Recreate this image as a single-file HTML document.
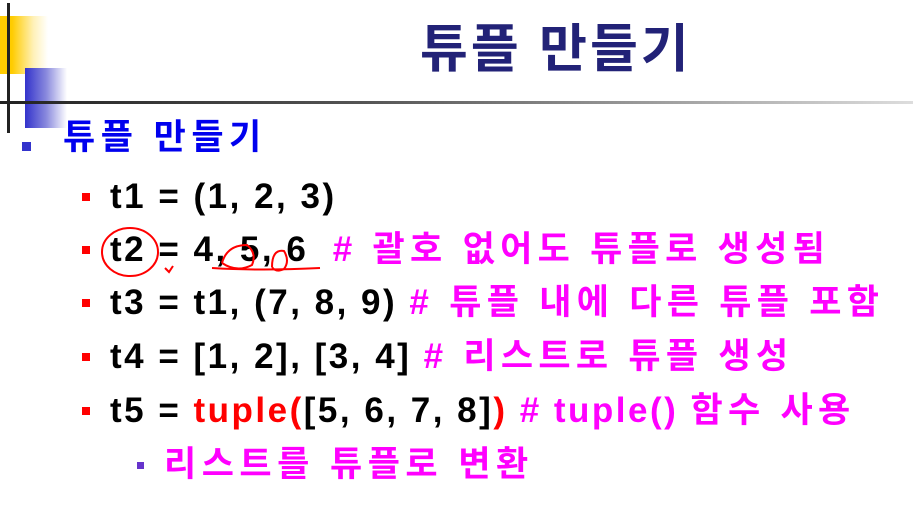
<!DOCTYPE html>
<html><head><meta charset="utf-8"><style>
body{margin:0;width:913px;height:515px;background:#fff;position:relative;overflow:hidden;font-family:"Liberation Sans","Noto Sans CJK KR",sans-serif;font-weight:bold}
.a{position:absolute}
.t{position:absolute;white-space:nowrap;font-size:35px;line-height:40px;color:#000;letter-spacing:2.5px}
.m{color:#ff00ff;letter-spacing:5.3px}.r{color:#ff0000}
.k{letter-spacing:5.3px}
.sq{position:absolute;width:8px;height:8px;background:#ff0000}
</style></head><body>
<div class="a" style="left:0;top:16px;width:48px;height:58px;background:linear-gradient(90deg,#ffcc00 0%,#ffcc00 25%,rgba(255,220,80,0.4) 70%,#fff 100%)"></div>
<div class="a" style="left:25px;top:68px;width:42px;height:60px;background:linear-gradient(90deg,#3333cc 0%,#8888dd 50%,#fff 100%)"></div>
<div class="a" style="left:7px;top:3px;width:3px;height:130px;background:#222"></div>
<div class="a" style="left:0;top:101px;width:913px;height:3px;background:linear-gradient(90deg,#222 0%,#555 40%,#ddd 100%)"></div>
<div class="t" style="left:420px;top:21px;font-size:52px;line-height:58px;color:#222277;letter-spacing:3px">튜플 만들기</div>
<div class="a" style="left:22px;top:142px;width:9px;height:9px;background:#3333cc"></div>
<div class="t" style="left:63px;top:118px;font-size:35px;color:#0000ee;letter-spacing:5.5px">튜플 만들기</div>
<div class="sq" style="left:82px;top:193px"></div>
<div class="t" style="left:110px;top:177px">t1 = (1, 2, 3)</div>
<div class="sq" style="left:82px;top:246px"></div>
<div class="t" style="left:110px;top:230px">t2 = 4, 5, 6 &nbsp;<span class="m"># 괄호 없어도 튜플로 생성됨</span></div>
<svg class="a" style="left:0;top:0" width="913" height="515"><g fill="none" stroke="#ff0000" stroke-width="2"><ellipse cx="130" cy="252" rx="28" ry="24"/><path d="M165 268 l4 4 l4 -6"/><path d="M212 268 Q260 271 320 268"/><path d="M222 263 q5 -18 25 -18 q10 8 5 20 q-15 8 -30 -2"/><path d="M272 267 q0 -18 12 -16 q6 10 0 18 q-8 4 -12 -2"/></g></svg>
<div class="sq" style="left:82px;top:299px"></div>
<div class="t" style="left:110px;top:283px">t3 = t1, (7, 8, 9) <span class="m"># 튜플 내에 다른 튜플 포함</span></div>
<div class="sq" style="left:82px;top:353px"></div>
<div class="t" style="left:110px;top:337px">t4 = [1, 2], [3, 4] <span class="m"># 리스트로 튜플 생성</span></div>
<div class="sq" style="left:82px;top:407px"></div>
<div class="t" style="left:110px;top:391px">t5 = <span class="r">tuple(</span>[5, 6, 7, 8]<span class="r">)</span> <span class="m" style="letter-spacing:2.5px"># tuple() <span class="k">함수 사용</span></span></div>
<div class="a" style="left:137px;top:462px;width:7px;height:7px;background:#6633cc"></div>
<div class="t" style="left:164px;top:445px"><span class="m" style="letter-spacing:5.5px">리스트를 튜플로 변환</span></div>
</body></html>
